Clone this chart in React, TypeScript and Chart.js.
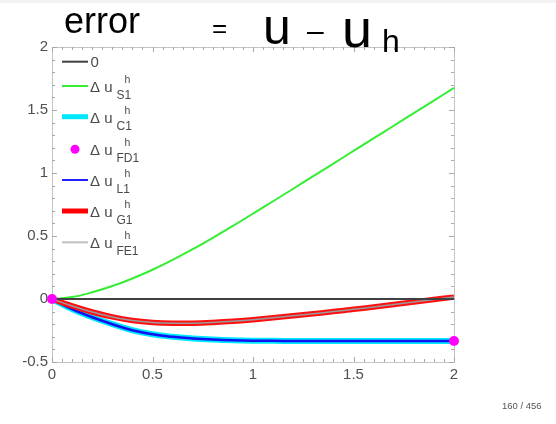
import React, { useEffect, useRef } from "react";
import { Chart, registerables } from "chart.js";

Chart.register(...registerables);

// Sample positions (step 0.1) and error values for each approximation
const xsGrid = [0, 0.1, 0.2, 0.3, 0.4, 0.5, 0.6, 0.7, 0.8, 0.9, 1.0, 1.1, 1.2, 1.3, 1.4, 1.5, 1.6, 1.7, 1.8, 1.9, 2.0];
const errS1 = [0, 0.015, 0.053, 0.103, 0.163, 0.232, 0.31, 0.395, 0.486, 0.58, 0.677, 0.776, 0.875, 0.975, 1.075, 1.175, 1.275, 1.375, 1.475, 1.575, 1.675];
const errC1 = [0, -0.08, -0.145, -0.2, -0.248, -0.28, -0.3, -0.313, -0.322, -0.328, -0.331, -0.332, -0.333, -0.333, -0.333, -0.333, -0.333, -0.333, -0.333, -0.333, -0.333];
const errL1 = errC1;
const errG1 = [0, -0.055, -0.103, -0.142, -0.17, -0.186, -0.193, -0.192, -0.186, -0.177, -0.164, -0.149, -0.133, -0.117, -0.1, -0.082, -0.064, -0.044, -0.024, -0.004, 0.015];
const errFE1 = errG1;

const xsFD1 = [0, 2];
const errFD1 = [0, -0.333];

const xsZero = [0, 2];
const zeroLine = [0, 0];

const xTicks = [0, 0.5, 1, 1.5, 2];
const yTicks = [-0.5, 0, 0.5, 1, 1.5, 2];

const legendRows = [
  { kind: "line", color: "#404040", width: 2, main: "0", sub: "" },
  { kind: "line", color: "#33ee33", width: 2, main: "Δ u", sub: "S1" },
  { kind: "line", color: "#00e8ff", width: 5, main: "Δ u", sub: "C1" },
  { kind: "dot", color: "#ff00ff", width: 0, main: "Δ u", sub: "FD1" },
  { kind: "line", color: "#2020ff", width: 2, main: "Δ u", sub: "L1" },
  { kind: "line", color: "#ff0000", width: 5, main: "Δ u", sub: "G1" },
  { kind: "line", color: "#c0c0c0", width: 2, main: "Δ u", sub: "FE1" },
];
const legendYs = [61.7, 86, 116.7, 149.3, 180, 211, 242.3];

const FONT = '"Liberation Sans", Arial, sans-serif';

const pts = (xs: number[], ys: number[]) => xs.map((x, i) => ({ x, y: ys[i] }));

const decorations = {
  id: "decorations",
  beforeDatasetsDraw(chart: any) {
    const { ctx, chartArea: a, scales } = chart;
    const xs = scales.x;
    const ys = scales.y;
    ctx.save();
    // frame
    ctx.strokeStyle = "#c4c4c4";
    ctx.lineWidth = 1;
    ctx.strokeRect(a.left + 0.5, a.top + 0.5, a.right - a.left, a.bottom - a.top);
    // inward tick marks on all four sides
    ctx.strokeStyle = "#a8a8a8";
    ctx.beginPath();
    for (let i = 0; i <= 40; i++) {
      const v = i * 0.05;
      const px = Math.round(xs.getPixelForValue(v)) + 0.5;
      const len = i % 10 === 0 ? 5 : 3;
      ctx.moveTo(px, a.bottom);
      ctx.lineTo(px, a.bottom - len);
      ctx.moveTo(px, a.top);
      ctx.lineTo(px, a.top + len);
    }
    for (let i = 0; i <= 25; i++) {
      const v = -0.5 + i * 0.1;
      const py = Math.round(ys.getPixelForValue(v)) + 0.5;
      const len = i % 5 === 0 ? 5 : 3;
      ctx.moveTo(a.left, py);
      ctx.lineTo(a.left + len, py);
      ctx.moveTo(a.right, py);
      ctx.lineTo(a.right - len, py);
    }
    ctx.stroke();
    ctx.restore();
  },
  afterDraw(chart: any) {
    const { ctx } = chart;
    ctx.save();
    // legend
    legendRows.forEach((r, i) => {
      const y = legendYs[i];
      if (r.kind === "line") {
        ctx.strokeStyle = r.color;
        ctx.lineWidth = r.width;
        ctx.beginPath();
        ctx.moveTo(62, y);
        ctx.lineTo(88, y);
        ctx.stroke();
      } else {
        ctx.fillStyle = r.color;
        ctx.beginPath();
        ctx.arc(75, y, 4.5, 0, Math.PI * 2);
        ctx.fill();
      }
      ctx.fillStyle = "#4a4a4a";
      ctx.textBaseline = "alphabetic";
      ctx.textAlign = "left";
      ctx.font = `15px ${FONT}`;
      if (r.sub === "") {
        ctx.fillText(r.main, 90.5, y + 5.5);
      } else {
        ctx.fillText(r.main, 90, y + 6);
        ctx.font = `10.5px ${FONT}`;
        ctx.fillText("h", 124.5, y - 3);
        ctx.font = `12px ${FONT}`;
        ctx.fillText(r.sub, 116.5, y + 13);
      }
    });

    // handwritten heading
    ctx.fillStyle = "#000";
    ctx.font = `36px ${FONT}`;
    ctx.fillText("error", 64, 33);
    ctx.font = `26px ${FONT}`;
    ctx.fillText("=", 212, 37);
    ctx.font = `50px ${FONT}`;
    ctx.fillText("u", 263, 44);
    ctx.font = `30px ${FONT}`;
    ctx.fillText("–", 307, 41);
    ctx.font = `54px ${FONT}`;
    ctx.fillText("u", 342, 47);
    ctx.font = `32px ${FONT}`;
    ctx.fillText("h", 382, 52);

    // page counter
    ctx.fillStyle = "#555";
    ctx.font = `9.5px ${FONT}`;
    ctx.fillText("160 / 456", 502, 409);
    ctx.restore();
  },
};

export default function App() {
  const ref = useRef<HTMLCanvasElement | null>(null);

  useEffect(() => {
    if (!ref.current) return;
    const line = (data: any, color: string, width: number, order: number) => ({
      data,
      borderColor: color,
      backgroundColor: color,
      borderWidth: width,
      pointRadius: 0,
      fill: false,
      tension: 0.4,
      clip: false,
      order,
    });
    const fmt = (v: any) => String(Number(v));
    const chart = new Chart(ref.current, {
      type: "line",
      data: {
        datasets: [
          { ...line(pts(xsFD1, errFD1), "#ff00ff", 0, 0), showLine: false, pointRadius: 5, pointBorderWidth: 0 },
          line(pts(xsZero, zeroLine), "#404040", 2, 1),
          line(pts(xsGrid, errFE1), "#9a9a9a", 1.5, 2),
          line(pts(xsGrid, errG1), "#ff1010", 5.5, 3),
          line(pts(xsGrid, errL1), "#1010f0", 2.5, 4),
          line(pts(xsGrid, errC1), "#00e8ff", 6, 5),
          line(pts(xsGrid, errS1), "#33ee33", 2, 6),
        ] as any,
      },
      options: {
        animation: false,
        responsive: false,
        layout: { padding: { top: 47, right: 102, left: 0, bottom: 0 } },
        plugins: { legend: { display: false }, tooltip: { enabled: false } },
        scales: {
          x: {
            type: "linear",
            min: 0,
            max: 2,
            grid: { display: false, drawTicks: false },
            border: { display: false },
            afterBuildTicks: (s: any) => { s.ticks = xTicks.map((v) => ({ value: v })); },
            afterFit: (s: any) => { s.height = 62; },
            ticks: { color: "#505050", font: { family: FONT, size: 15 }, padding: 4, maxRotation: 0, autoSkip: false, callback: fmt },
          },
          y: {
            type: "linear",
            min: -0.5,
            max: 2,
            grid: { display: false, drawTicks: false },
            border: { display: false },
            afterBuildTicks: (s: any) => { s.ticks = yTicks.map((v) => ({ value: v })); },
            afterFit: (s: any) => { s.width = 52; },
            ticks: { color: "#505050", font: { family: FONT, size: 15 }, padding: 4, autoSkip: false, callback: fmt },
          },
        },
      },
      plugins: [decorations],
    } as any);
    return () => chart.destroy();
  }, []);

  return (
    <div style={{ position: "fixed", left: 0, top: 0, width: 556, height: 424, background: "#fff" }}>
      <div style={{ position: "absolute", left: 0, top: 0, width: 556, height: 3, background: "#f2f2f2" }} />
      <canvas ref={ref} width={556} height={424} style={{ position: "absolute", left: 0, top: 0 }} />
    </div>
  );
}
